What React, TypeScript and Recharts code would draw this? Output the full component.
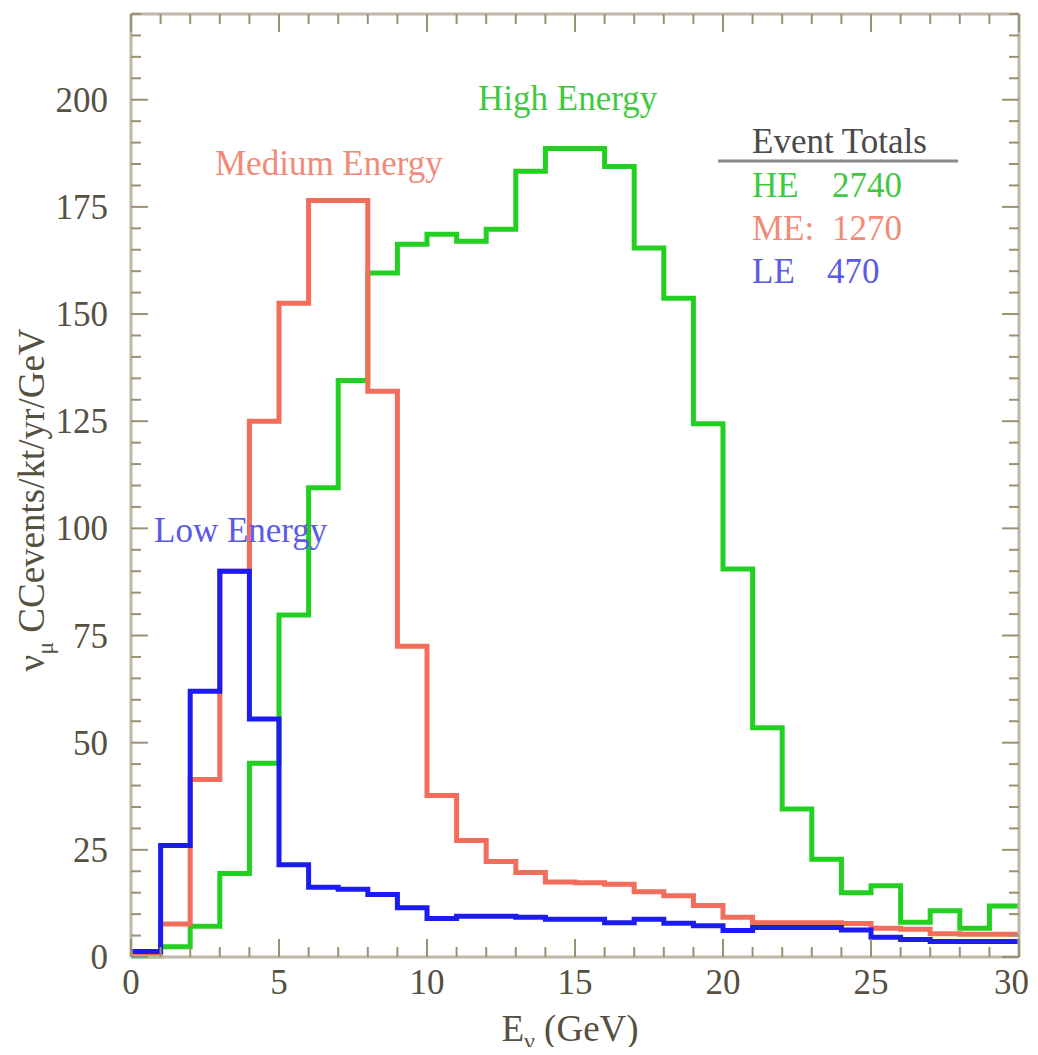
import { LineChart, Line, XAxis, YAxis } from "recharts";

// bin edges in GeV (1 GeV bins, 0..30)
const edges = [
  0, 1, 2, 3, 4, 5, 6, 7, 8, 9, 10, 11, 12, 13, 14, 15, 16, 17, 18, 19, 20, 21,
  22, 23, 24, 25, 26, 27, 28, 29, 30,
];

// nu_mu CC events / kt / yr / GeV, one value per bin
const highEnergy = [
  0.3, 2.4, 7.2, 19.5, 45.2, 79.8, 109.5, 134.5, 159.6, 166.3, 168.6, 167,
  169.8, 183.3, 188.6, 188.6, 184.4, 165.4, 153.7, 124.4, 90.5, 53.5, 34.5,
  22.8, 15, 16.6, 8.1, 10.8, 6.7, 11.9,
];
const mediumEnergy = [
  0.3, 7.7, 41.4, 90, 125, 152.5, 176.5, 176.5, 132, 72.5, 37.7, 27.2, 22.3,
  19.7, 17.5, 17.3, 17, 15.2, 14.3, 12, 9.3, 8, 8, 8, 7.8, 6.7, 6.5, 5.4, 5.3,
  5.3,
];
const lowEnergy = [
  1.3, 26, 62, 90, 55.5, 21.5, 16.3, 15.8, 14.6, 11.5, 9, 9.5, 9.5, 9.3, 8.8,
  8.8, 8, 8.8, 7.9, 7.3, 6.2, 6.9, 6.9, 6.9, 6.3, 4.6, 4.1, 3.6, 3.6, 3.6,
];

const xTicks = edges;
const yTicks = [
  0, 5, 10, 15, 20, 25, 30, 35, 40, 45, 50, 55, 60, 65, 70, 75, 80, 85, 90, 95,
  100, 105, 110, 115, 120, 125, 130, 135, 140, 145, 150, 155, 160, 165, 170,
  175, 180, 185, 190, 195, 200, 205, 210, 215, 220,
];

const totals = [
  { name: "HE", value: "2740", color: "#3fc93f" },
  { name: "ME:", value: "1270", color: "#f28a78" },
  { name: "LE", value: "470", color: "#5a5ae6" },
];

// last edge repeats the last bin so the step closes at 30
const data = edges.map((e, i) => {
  const k = Math.min(i, lowEnergy.length - 1);
  return { e, he: highEnergy[k], me: mediumEnergy[k], le: lowEnergy[k] };
});

const FONT = "'Liberation Serif', 'DejaVu Serif', serif";
const FRAME = "#bdb8a8";
const TICK = "#9a9274";
const LABEL = "#55503f";
const W = 1030;
const H = 1039;

const BottomTick = (props: any) => {
  const { x, y, payload } = props;
  const major = payload.value % 5 === 0;
  // the last label sits against the page edge, so pin its right end
  const last = payload.value === xTicks[xTicks.length - 1];
  return (
    <g>
      <line x1={x} x2={x} y1={y} y2={y - (major ? 18 : 10)} stroke={TICK} strokeWidth={2} />
      {major && (
        <text
          x={last ? x + 10 : x}
          y={y + 37}
          textAnchor={last ? "end" : "middle"}
          fontFamily={FONT}
          fontSize={35}
          fill={LABEL}
        >
          {payload.value}
        </text>
      )}
    </g>
  );
};

const TopTick = (props: any) => {
  const { x, y, payload } = props;
  const major = payload.value % 5 === 0;
  return <line x1={x} x2={x} y1={y} y2={y + (major ? 18 : 10)} stroke={TICK} strokeWidth={2} />;
};

const LeftTick = (props: any) => {
  const { x, y, payload } = props;
  const major = payload.value % 25 === 0;
  return (
    <g>
      <line x1={x} x2={x + (major ? 17 : 10)} y1={y} y2={y} stroke={TICK} strokeWidth={2} />
      {major && payload.value <= 200 && (
        <text x={x - 23} y={y + 12} textAnchor="end" fontFamily={FONT} fontSize={35} fill={LABEL}>
          {payload.value}
        </text>
      )}
    </g>
  );
};

const RightTick = (props: any) => {
  const { x, y, payload } = props;
  const major = payload.value % 25 === 0;
  return <line x1={x} x2={x - (major ? 17 : 10)} y1={y} y2={y} stroke={TICK} strokeWidth={2} />;
};

const Annotations = () => (
  <svg
    width={W}
    height={H}
    style={{ position: "absolute", left: 0, top: 0, pointerEvents: "none", overflow: "visible" }}
    fontFamily={FONT}
  >
    <text x={470} y={102} fontSize={35} fill="#3fc93f">High Energy</text>
    <text x={207} y={167} fontSize={35} fill="#f28a78">Medium Energy</text>
    <text x={146} y={534} fontSize={35} fill="#5a5ae6">Low Energy</text>

    <text x={744} y={145} fontSize={35} fill="#4a4a4a">Event Totals</text>
    <line x1={710} x2={950} y1={153} y2={153} stroke="#8a8a8a" strokeWidth={3} />
    {totals.map((t, i) => (
      <g key={t.name}>
        <text x={744} y={189 + i * 43} fontSize={35} fill={t.color}>{t.name}</text>
        <text x={t.value.length > 3 ? 824 : 819} y={189 + i * 43} fontSize={35} fill={t.color}>
          {t.value}
        </text>
      </g>
    ))}

    <text x={562} y={1033} textAnchor="middle" fontSize={37} fill={LABEL}>
      E
      <tspan fontSize={24} dy={8}>ν</tspan>
      <tspan dy={-8}> (GeV)</tspan>
    </text>

    <text
      transform="translate(36, 492) rotate(-90)"
      textAnchor="middle"
      fontSize={37}
      fill={LABEL}
    >
      ν
      <tspan fontSize={24} dy={9}>μ</tspan>
      <tspan dy={-9}> CCevents/kt/yr/GeV</tspan>
    </text>
  </svg>
);

const App = () => (
  <div style={{ position: "relative", width: W, height: H }}>
    <style>{"html, body { overflow: hidden; }"}</style>
    <LineChart
      width={W}
      height={H}
      data={data}
      margin={{ top: 5, right: 18, bottom: 0, left: 0 }}
      style={{ overflow: "visible" }}
    >
      <XAxis
        dataKey="e"
        type="number"
        domain={[0, 30]}
        ticks={xTicks}
        interval={0}
        height={90}
        tickSize={0}
        tickMargin={0}
        tick={<BottomTick />}
        axisLine={{ stroke: FRAME, strokeWidth: 3 }}
      />
      <XAxis
        xAxisId="top"
        dataKey="e"
        orientation="top"
        type="number"
        domain={[0, 30]}
        ticks={xTicks}
        interval={0}
        height={1}
        tickSize={0}
        tickMargin={0}
        tick={<TopTick />}
        axisLine={{ stroke: FRAME, strokeWidth: 3 }}
      />
      <YAxis
        type="number"
        domain={[0, 220]}
        ticks={yTicks}
        interval={0}
        width={123}
        tickSize={0}
        tickMargin={0}
        tick={<LeftTick />}
        axisLine={{ stroke: FRAME, strokeWidth: 3 }}
      />
      <YAxis
        yAxisId="right"
        orientation="right"
        type="number"
        domain={[0, 220]}
        ticks={yTicks}
        interval={0}
        width={1}
        tickSize={0}
        tickMargin={0}
        tick={<RightTick />}
        axisLine={{ stroke: FRAME, strokeWidth: 3 }}
      />
      {/* invisible series so the mirrored frame axes get drawn */}
      <Line
        xAxisId="top"
        yAxisId="right"
        dataKey="le"
        stroke="none"
        dot={false}
        activeDot={false}
        legendType="none"
        isAnimationActive={false}
      />
      <Line type="stepAfter" dataKey="he" stroke="#22d022" strokeWidth={5} dot={false} isAnimationActive={false} />
      <Line type="stepAfter" dataKey="me" stroke="#f26d5b" strokeWidth={5} dot={false} isAnimationActive={false} />
      <Line type="stepAfter" dataKey="le" stroke="#1c1cf0" strokeWidth={5} dot={false} isAnimationActive={false} />
    </LineChart>
    <Annotations />
  </div>
);

export default App;
